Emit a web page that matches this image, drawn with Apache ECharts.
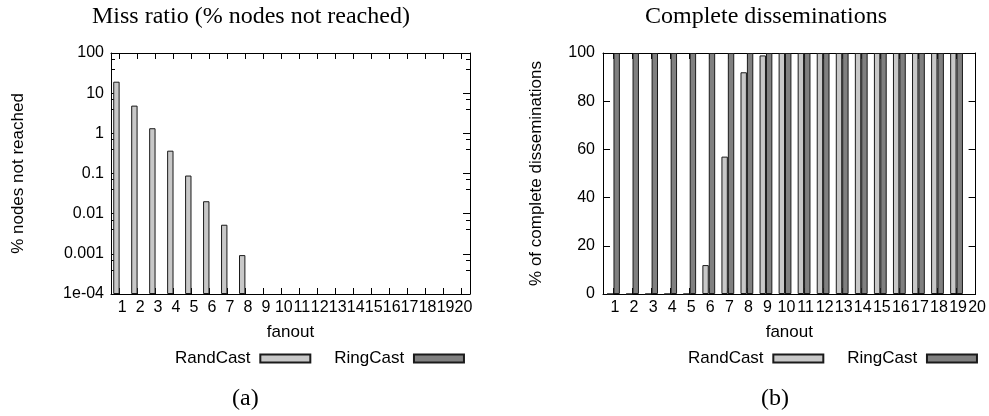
<!DOCTYPE html>
<html>
<head>
<meta charset="utf-8">
<script src="https://cdn.jsdelivr.net/npm/echarts@6/dist/echarts.min.js"></script>
<style>
html,body{margin:0;padding:0;background:#fff;}
#chart{width:989px;height:416px;}
</style>
</head>
<body>
<div id="chart"></div>
<script>
// ---- data ----
const fanout = [1,2,3,4,5,6,7,8,9,10,11,12,13,14,15,16,17,18,19,20];
// (a) miss ratio, % nodes not reached (0 = nothing drawn on the log axis)
const missRandCast = [19.3, 4.9, 1.34, 0.37, 0.089, 0.0204, 0.0053, 0.00093, 0,0,0,0,0,0,0,0,0,0,0,0];
const missRingCast = [0,0,0,0,0,0,0,0,0,0,0,0,0,0,0,0,0,0,0,0];
// (b) % of complete disseminations (fanout 20 has no bar)
const completeRandCast = [0,0,0,0,0,12,57,92,99,100,100,100,100,100,100,100,100,100,100,null];
const completeRingCast = [100,100,100,100,100,100,100,100,100,100,100,100,100,100,100,100,100,100,100,null];
// log-axis tick labels
const missTickValues = [0.0001, 0.001, 0.01, 0.1, 1, 10, 100];
const missTickLabels = ['1e-04', '0.001', '0.01', '0.1', '1', '10', '100'];

const SANS = 'Liberation Sans, Arial, sans-serif';
const SERIF = 'Liberation Serif, Times New Roman, serif';
const LIGHT = '#c8c8c8';
const DARK = '#808080';
const EDGE = '#1a1a1a';
const TICKFONT = 16;

function pairs(vals, dropZero) {
  return fanout.map((f, i) => {
    const v = vals[i];
    if (v === null || (dropZero && v <= 0)) return [f, null];
    return [f, v];
  });
}

function xAxisCfg(gridIndex, min, max, pos, showLabel, name, padLeft) {
  return {
    type: 'value', gridIndex, min, max, position: pos,
    name: name || '', nameLocation: 'middle', nameGap: 30,
    nameTextStyle: {fontFamily: SANS, fontSize: 17, color: '#000'},
    axisLine: {show: true, onZero: false, lineStyle: {color: '#000', width: 1}},
    axisTick: {show: true, inside: true, length: 6, customValues: fanout, lineStyle: {color: '#000'}},
    axisLabel: {show: showLabel, customValues: fanout, showMinLabel: true, showMaxLabel: true, hideOverlap: false,
                fontFamily: SANS, fontSize: TICKFONT, color: '#000', margin: 6,
                padding: [0, 0, 0, padLeft]},
    splitLine: {show: false}
  };
}

const option = {
  animation: false,
  backgroundColor: '#fff',
  grid: [
    {left: 111, top: 53, width: 359, height: 241},
    {left: 603, top: 53, width: 373, height: 241}
  ],
  xAxis: [
    xAxisCfg(0, 0.52, 20.5, 'bottom', true, 'fanout', 5),
    xAxisCfg(0, 0.52, 20.5, 'top', false, '', 0),
    xAxisCfg(1, 0.45, 20, 'bottom', true, 'fanout', 3),
    xAxisCfg(1, 0.45, 20, 'top', false, '', 0)
  ],
  yAxis: [
    {
      type: 'log', logBase: 10, gridIndex: 0, min: 0.0001, max: 100, startValue: 0.0001, position: 'left',
      name: '% nodes not reached', nameLocation: 'middle', nameGap: 84,
      nameTextStyle: {fontFamily: SANS, fontSize: 17, color: '#000'},
      axisLine: {show: true, lineStyle: {color: '#000'}},
      axisTick: {show: true, inside: true, length: 7, lineStyle: {color: '#000'}},
      minorTick: {show: true, splitNumber: 3, length: 4, lineStyle: {color: '#000'}},
      axisLabel: {fontFamily: SANS, fontSize: TICKFONT, color: '#000', margin: 7,
        formatter: v => { const k = missTickValues.findIndex(t => Math.abs(Math.log10(t) - Math.log10(v)) < 1e-6); return k >= 0 ? missTickLabels[k] : ''; }},
      splitLine: {show: false}
    },
    {
      type: 'log', logBase: 10, gridIndex: 0, min: 0.0001, max: 100, position: 'right',
      axisLine: {show: true, lineStyle: {color: '#000'}},
      axisTick: {show: true, inside: true, length: 7, lineStyle: {color: '#000'}},
      minorTick: {show: true, splitNumber: 3, length: 4, lineStyle: {color: '#000'}},
      axisLabel: {show: false}, splitLine: {show: false}
    },
    {
      type: 'value', gridIndex: 1, min: 0, max: 100, interval: 20, position: 'left',
      name: '% of complete disseminations', nameLocation: 'middle', nameGap: 58,
      nameTextStyle: {fontFamily: SANS, fontSize: 17, color: '#000'},
      axisLine: {show: true, lineStyle: {color: '#000'}},
      axisTick: {show: true, inside: true, length: 7, lineStyle: {color: '#000'}},
      axisLabel: {fontFamily: SANS, fontSize: TICKFONT, color: '#000', margin: 8},
      splitLine: {show: false}
    },
    {
      type: 'value', gridIndex: 1, min: 0, max: 100, interval: 20, position: 'right',
      axisLine: {show: true, lineStyle: {color: '#000'}},
      axisTick: {show: true, inside: true, length: 7, lineStyle: {color: '#000'}},
      axisLabel: {show: false}, splitLine: {show: false}
    }
  ],
  legend: [
    {left: 170, top: 345, orient: 'horizontal', align: 'right', itemWidth: 50, itemHeight: 8, itemGap: 23,
     icon: 'rect', data: ['RandCast', 'RingCast'], selectedMode: false,
     formatter: n => n + ' ', textStyle: {fontFamily: SANS, fontSize: 17, color: '#000'}},
    {left: 683, top: 345, orient: 'horizontal', align: 'right', itemWidth: 50, itemHeight: 8, itemGap: 23,
     icon: 'rect', data: ['RandCast', 'RingCast'], selectedMode: false,
     formatter: n => n + ' ', textStyle: {fontFamily: SANS, fontSize: 17, color: '#000'}}
  ],
  graphic: [
    {type: 'text', left: 92, top: 5, style: {text: 'Miss ratio (% nodes not reached)', font: '24px ' + SERIF, fill: '#000'}},
    {type: 'text', left: 645, top: 5, style: {text: 'Complete disseminations', font: '24px ' + SERIF, fill: '#000'}},
    {type: 'text', left: 232, top: 387, style: {text: '(a)', font: '24px ' + SERIF, fill: '#000'}},
    {type: 'text', left: 761, top: 387, style: {text: '(b)', font: '24px ' + SERIF, fill: '#000'}}
  ],
  series: [
    {name: 'RandCast', type: 'bar', xAxisIndex: 0, yAxisIndex: 0, barWidth: 6.4, barGap: '0%',
     itemStyle: {color: LIGHT, borderColor: EDGE, borderWidth: 1}, data: pairs(missRandCast, true)},
    {name: 'RingCast', type: 'bar', xAxisIndex: 0, yAxisIndex: 0, barWidth: 6.4, barGap: '0%',
     itemStyle: {color: DARK, borderColor: EDGE, borderWidth: 1}, data: pairs(missRingCast, true)},
    {name: 'RandCast', type: 'bar', xAxisIndex: 2, yAxisIndex: 2, barWidth: 6.4, barGap: '0%',
     itemStyle: {color: LIGHT, borderColor: EDGE, borderWidth: 1}, data: pairs(completeRandCast, false)},
    {name: 'RingCast', type: 'bar', xAxisIndex: 2, yAxisIndex: 2, barWidth: 6.4, barGap: '0%',
     itemStyle: {color: DARK, borderColor: EDGE, borderWidth: 1}, data: pairs(completeRingCast, false)}
  ]
};

const chart = echarts.init(document.getElementById('chart'), null, {renderer: 'canvas'});
chart.setOption(option);
</script>
</body>
</html>
